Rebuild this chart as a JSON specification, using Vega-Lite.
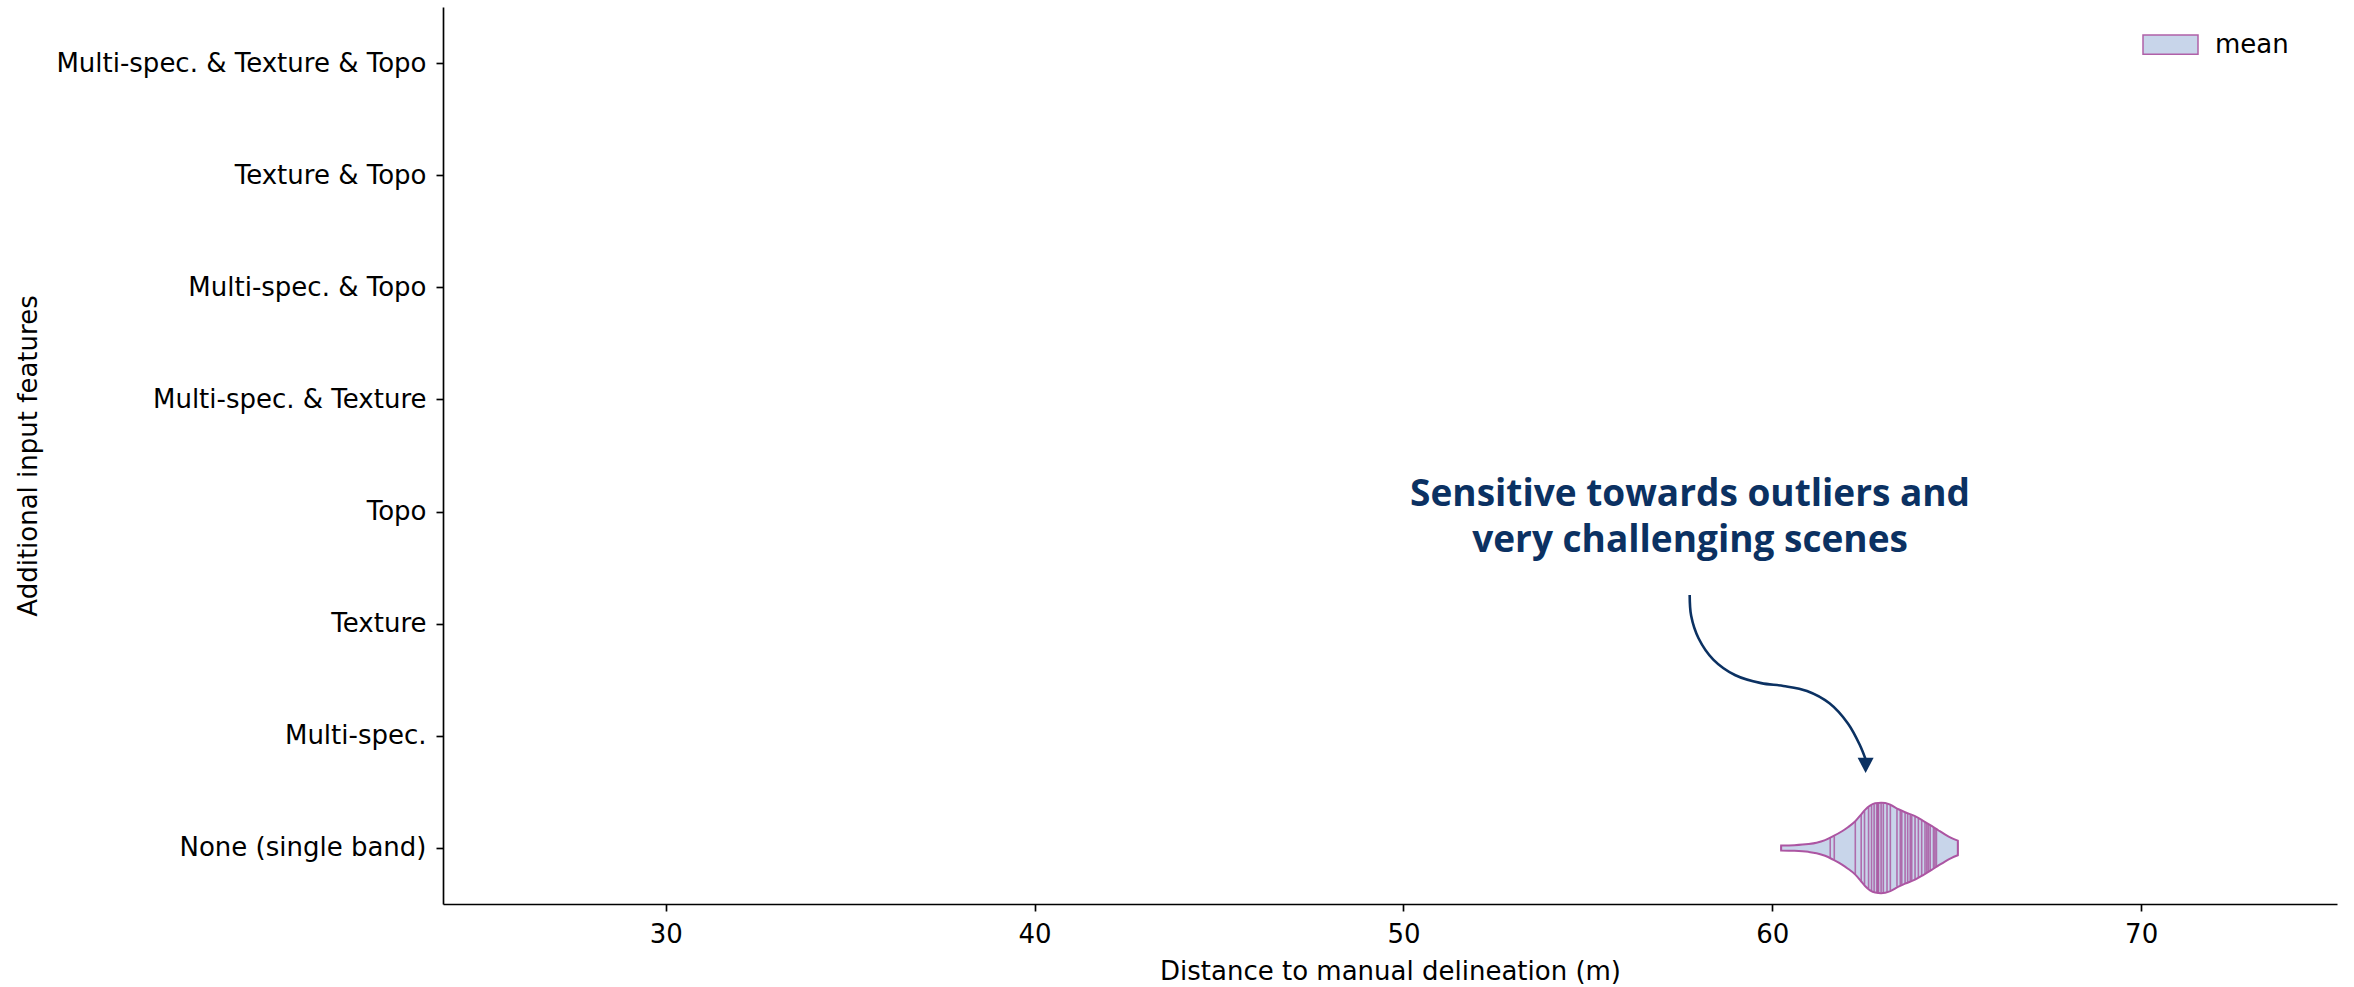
{
  "$schema": "https://vega.github.io/schema/vega-lite/v6.json",
  "width": 1894,
  "height": 897,
  "autosize": "none",
  "padding": {"left": 443, "top": 7, "right": 17, "bottom": 83},
  "background": "white",
  "config": {
    "font": "DejaVu Sans",
    "view": {"stroke": null},
    "axis": {
      "domainColor": "#000000", "domainWidth": 1.67,
      "tickColor": "#000000", "tickWidth": 1.67, "tickSize": 7,
      "labelColor": "#000000", "labelFont": "DejaVu Sans", "labelFontSize": 26,
      "titleColor": "#000000", "titleFont": "DejaVu Sans", "titleFontSize": 26, "titleFontWeight": "normal",
      "grid": false
    }
  },
  "datasets": {
    "categories": [
      {"feature": "Multi-spec. & Texture & Topo"},
      {"feature": "Texture & Topo"},
      {"feature": "Multi-spec. & Topo"},
      {"feature": "Multi-spec. & Texture"},
      {"feature": "Topo"},
      {"feature": "Texture"},
      {"feature": "Multi-spec."},
      {"feature": "None (single band)"}
    ],
    "violin": [
      {"dist": 60.24, "lo": -0.022, "hi": 0.022},
      {"dist": 60.6, "lo": -0.025, "hi": 0.025},
      {"dist": 60.98, "lo": -0.035, "hi": 0.035},
      {"dist": 61.2, "lo": -0.047, "hi": 0.047},
      {"dist": 61.43, "lo": -0.07, "hi": 0.07},
      {"dist": 61.65, "lo": -0.105, "hi": 0.105},
      {"dist": 61.89, "lo": -0.149, "hi": 0.149},
      {"dist": 62.05, "lo": -0.185, "hi": 0.185},
      {"dist": 62.25, "lo": -0.238, "hi": 0.238},
      {"dist": 62.4, "lo": -0.295, "hi": 0.295},
      {"dist": 62.52, "lo": -0.342, "hi": 0.342},
      {"dist": 62.65, "lo": -0.378, "hi": 0.378},
      {"dist": 62.79, "lo": -0.398, "hi": 0.398},
      {"dist": 62.95, "lo": -0.404, "hi": 0.404},
      {"dist": 63.06, "lo": -0.4, "hi": 0.4},
      {"dist": 63.2, "lo": -0.385, "hi": 0.385},
      {"dist": 63.42, "lo": -0.345, "hi": 0.345},
      {"dist": 63.6, "lo": -0.318, "hi": 0.318},
      {"dist": 63.87, "lo": -0.283, "hi": 0.283},
      {"dist": 64.1, "lo": -0.24, "hi": 0.24},
      {"dist": 64.33, "lo": -0.194, "hi": 0.194},
      {"dist": 64.5, "lo": -0.158, "hi": 0.158},
      {"dist": 64.69, "lo": -0.119, "hi": 0.119},
      {"dist": 64.85, "lo": -0.09, "hi": 0.09},
      {"dist": 65.03, "lo": -0.065, "hi": 0.065}
    ],
    "sticks": [
      {"value": 60.24, "lo": -0.02, "hi": 0.02},
      {"value": 61.57, "lo": -0.09, "hi": 0.09},
      {"value": 61.68, "lo": -0.105, "hi": 0.105},
      {"value": 62.25, "lo": -0.232, "hi": 0.232},
      {"value": 62.41, "lo": -0.293, "hi": 0.293},
      {"value": 62.5, "lo": -0.328, "hi": 0.328},
      {"value": 62.61, "lo": -0.36, "hi": 0.36},
      {"value": 62.69, "lo": -0.38, "hi": 0.38},
      {"value": 62.76, "lo": -0.39, "hi": 0.39},
      {"value": 62.83, "lo": -0.395, "hi": 0.395},
      {"value": 62.86, "lo": -0.396, "hi": 0.396},
      {"value": 62.88, "lo": -0.397, "hi": 0.397},
      {"value": 62.95, "lo": -0.398, "hi": 0.398},
      {"value": 63.01, "lo": -0.396, "hi": 0.396},
      {"value": 63.11, "lo": -0.392, "hi": 0.392},
      {"value": 63.2, "lo": -0.378, "hi": 0.378},
      {"value": 63.38, "lo": -0.345, "hi": 0.345},
      {"value": 63.47, "lo": -0.332, "hi": 0.332},
      {"value": 63.51, "lo": -0.326, "hi": 0.326},
      {"value": 63.6, "lo": -0.312, "hi": 0.312},
      {"value": 63.67, "lo": -0.303, "hi": 0.303},
      {"value": 63.74, "lo": -0.294, "hi": 0.294},
      {"value": 63.78, "lo": -0.289, "hi": 0.289},
      {"value": 63.87, "lo": -0.277, "hi": 0.277},
      {"value": 63.96, "lo": -0.262, "hi": 0.262},
      {"value": 64.05, "lo": -0.245, "hi": 0.245},
      {"value": 64.14, "lo": -0.228, "hi": 0.228},
      {"value": 64.19, "lo": -0.218, "hi": 0.218},
      {"value": 64.23, "lo": -0.21, "hi": 0.21},
      {"value": 64.28, "lo": -0.2, "hi": 0.2},
      {"value": 64.37, "lo": -0.18, "hi": 0.18},
      {"value": 64.41, "lo": -0.172, "hi": 0.172},
      {"value": 64.45, "lo": -0.163, "hi": 0.163},
      {"value": 65.03, "lo": -0.06, "hi": 0.06}
    ],
    "arrow": [
      {"step": 1, "ax": 57.76, "ay": 2.256},
      {"step": 2, "ax": 57.8, "ay": 2.07},
      {"step": 3, "ax": 58.0, "ay": 1.87},
      {"step": 4, "ax": 58.4, "ay": 1.68},
      {"step": 5, "ax": 59.0, "ay": 1.54},
      {"step": 6, "ax": 59.7, "ay": 1.47},
      {"step": 7, "ax": 60.3, "ay": 1.445},
      {"step": 8, "ax": 60.94, "ay": 1.40},
      {"step": 9, "ax": 61.55, "ay": 1.29},
      {"step": 10, "ax": 62.05, "ay": 1.11},
      {"step": 11, "ax": 62.37, "ay": 0.92},
      {"step": 12, "ax": 62.53, "ay": 0.79}
    ],
    "arrowhead": [{"ax": 62.53, "ay": 0.736}],
    "note": [{"nx": 57.77, "ny": 3.052, "label": "Sensitive towards outliers and\nvery challenging scenes"}]
  },
  "layer": [
    {
      "data": {"name": "categories"},
      "mark": {"type": "point", "opacity": 0},
      "encoding": {
        "y": {
          "field": "feature", "type": "nominal",
          "scale": {
            "domain": ["Multi-spec. & Texture & Topo", "Texture & Topo", "Multi-spec. & Topo", "Multi-spec. & Texture", "Topo", "Texture", "Multi-spec.", "None (single band)"],
            "paddingInner": 0, "paddingOuter": 0
          },
          "axis": {
            "title": "Additional input features",
            "labelPadding": 10, "labelLimit": 1000,
            "titleX": -407, "titleY": 448.5, "titleAngle": -90,
            "titleAlign": "center", "titleBaseline": "alphabetic"
          }
        }
      }
    },
    {
      "layer": [
        {
          "data": {"name": "violin"},
          "mark": {"type": "area", "interpolate": "monotone", "fillOpacity": 1},
          "encoding": {
            "x": {
              "field": "dist", "type": "quantitative",
              "scale": {"domain": [23.96, 75.31], "nice": false, "zero": false},
              "axis": {
                "title": "Distance to manual delineation (m)",
                "values": [30, 40, 50, 60, 70], "format": "d",
                "labelPadding": 10,
                "titleX": 947, "titleY": 75, "titleAlign": "center", "titleBaseline": "alphabetic"
              }
            },
            "y": {"field": "hi", "type": "quantitative", "scale": {"domain": [-0.5, 7.5], "nice": false, "zero": false}, "axis": null},
            "y2": {"field": "lo"},
            "fill": {
              "datum": "mean", "type": "nominal",
              "scale": {"range": ["#c8d5ea"]},
              "legend": {
                "title": null, "orient": "none", "legendX": 1699, "legendY": 9,
                "padding": 0,
                "symbolType": "M-1,-0.35L1,-0.35L1,0.35L-1,0.35Z",
                "symbolSize": 3025,
                "symbolStrokeColor": "#b060a8", "symbolStrokeWidth": 1.5, "symbolOpacity": 1,
                "labelFontSize": 26, "labelFont": "DejaVu Sans", "labelColor": "#000000", "labelOffset": 16
              }
            }
          }
        },
        {
          "data": {"name": "sticks"},
          "mark": {"type": "rule", "color": "#a8519e", "strokeWidth": 1.6, "opacity": 0.8},
          "encoding": {
            "x": {"field": "value", "type": "quantitative"},
            "y": {"field": "lo", "type": "quantitative"},
            "y2": {"field": "hi"}
          }
        },
        {
          "data": {"name": "violin"},
          "mark": {"type": "area", "interpolate": "monotone", "fill": null, "fillOpacity": 0, "stroke": "#ac55a2", "strokeWidth": 2},
          "encoding": {
            "x": {"field": "dist", "type": "quantitative"},
            "y": {"field": "hi", "type": "quantitative"},
            "y2": {"field": "lo"}
          }
        },
        {
          "data": {"name": "arrow"},
          "mark": {"type": "line", "interpolate": "catmull-rom", "color": "#0b3162", "strokeWidth": 2.6},
          "encoding": {
            "x": {"field": "ax", "type": "quantitative"},
            "y": {"field": "ay", "type": "quantitative"},
            "order": {"field": "step", "type": "quantitative"}
          }
        },
        {
          "data": {"name": "arrowhead"},
          "mark": {"type": "point", "shape": "M-1,-0.95L1,-0.95L0,0.95Z", "size": 256, "filled": true, "color": "#0b3162", "opacity": 1},
          "encoding": {
            "x": {"field": "ax", "type": "quantitative"},
            "y": {"field": "ay", "type": "quantitative"}
          }
        },
        {
          "data": {"name": "note"},
          "mark": {"type": "text", "font": "Open Sans", "fontWeight": "bold", "fontSize": 37, "color": "#0b3162", "align": "center", "baseline": "alphabetic", "lineBreak": "\n", "lineHeight": 46},
          "encoding": {
            "x": {"field": "nx", "type": "quantitative"},
            "y": {"field": "ny", "type": "quantitative"},
            "text": {"field": "label"}
          }
        }
      ]
    }
  ],
  "resolve": {"scale": {"y": "independent"}}
}
